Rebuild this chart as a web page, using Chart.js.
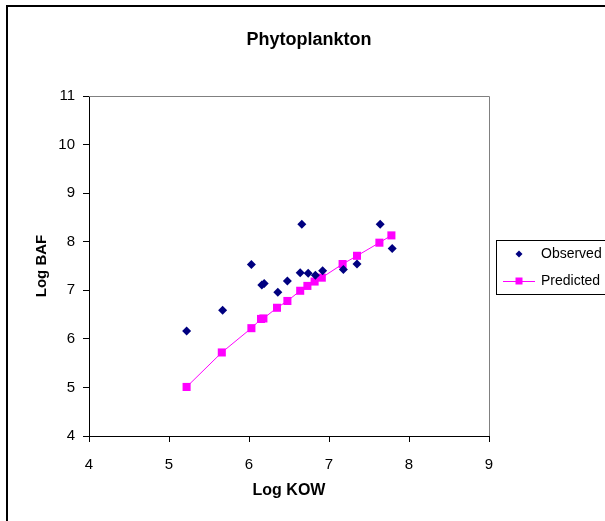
<!DOCTYPE html>
<html>
<head>
<meta charset="utf-8">
<title>Phytoplankton</title>
<script src="https://cdn.jsdelivr.net/npm/chart.js@4.4.1/dist/chart.umd.min.js"></script>
<style>
  html, body { margin: 0; padding: 0; background: #fff; overflow: hidden; }
  #frame { position: absolute; left: 6px; top: 5px; width: 700px; height: 700px; border: 2px solid #000; }
  #chart { position: absolute; left: 0; top: 0; }
</style>
</head>
<body>
<div id="frame"></div>
<canvas id="chart" width="618" height="521"></canvas>
<script>
  // Values (Log KOW vs Log BAF)
  const kowObserved = [5.22, 5.67, 6.03, 6.16, 6.19, 6.36, 6.48, 6.64, 6.66, 6.74, 6.83, 6.92, 7.18, 7.35, 7.64, 7.79];
  const bafObserved = [6.16, 6.59, 7.53, 7.11, 7.14, 6.96, 7.19, 7.36, 8.36, 7.35, 7.31, 7.40, 7.43, 7.54, 8.36, 7.86];
  const kowPredicted = [5.22, 5.66, 6.03, 6.15, 6.18, 6.35, 6.48, 6.64, 6.73, 6.82, 6.91, 7.17, 7.35, 7.63, 7.78];
  const bafPredicted = [5.01, 5.72, 6.22, 6.41, 6.42, 6.64, 6.78, 6.99, 7.09, 7.18, 7.26, 7.54, 7.71, 7.98, 8.13];
  const seriesNames = ["Observed", "Predicted"];
  const xTicks = [4, 5, 6, 7, 8, 9];
  const yTicks = [4, 5, 6, 7, 8, 9, 10, 11];

  const toPoints = (xs, ys) => xs.map((x, i) => ({ x: x, y: ys[i] }));

  Chart.defaults.font.family = "'Liberation Sans', Arial, sans-serif";
  Chart.defaults.color = "#000";

  // gray top/right edge of the plot area
  const plotFrame = {
    id: "plotFrame",
    beforeDatasetsDraw(chart) {
      const { ctx, chartArea: a } = chart;
      ctx.save();
      ctx.strokeStyle = "#808080";
      ctx.lineWidth = 1;
      ctx.beginPath();
      ctx.moveTo(a.left, a.top + 0.5);
      ctx.lineTo(a.right + 0.5, a.top + 0.5);
      ctx.lineTo(a.right + 0.5, a.bottom);
      ctx.stroke();
      ctx.restore();
    }
  };

  // boxed legend to the right of the plot
  const legendBox = {
    id: "legendBox",
    afterDraw(chart) {
      const ctx = chart.ctx;
      ctx.save();
      ctx.fillStyle = "#fff";
      ctx.strokeStyle = "#000";
      ctx.lineWidth = 1;
      ctx.fillRect(496.5, 240.5, 140, 54);
      ctx.strokeRect(496.5, 240.5, 140, 54);
      ctx.font = "14px 'Liberation Sans', Arial, sans-serif";
      ctx.textBaseline = "middle";
      chart.data.datasets.forEach((ds, i) => {
        const y = 254 + i * 27;
        const cx = 519;
        if (ds.showLine) {
          ctx.strokeStyle = ds.borderColor;
          ctx.lineWidth = 1;
          ctx.beginPath();
          ctx.moveTo(503, y + 0.5);
          ctx.lineTo(535, y + 0.5);
          ctx.stroke();
        }
        ctx.fillStyle = ds.pointBackgroundColor;
        ctx.beginPath();
        if (ds.pointStyle === "rectRot") {
          const r = 3.5;
          ctx.moveTo(cx - r, y);
          ctx.lineTo(cx, y - r);
          ctx.lineTo(cx + r, y);
          ctx.lineTo(cx, y + r);
          ctx.closePath();
        } else {
          ctx.rect(cx - 3.5, y - 3.5, 7, 7);
        }
        ctx.fill();
        ctx.fillStyle = "#000";
        ctx.fillText(ds.label, 541, y);
      });
      ctx.restore();
    }
  };

  new Chart(document.getElementById("chart"), {
    type: "scatter",
    data: {
      datasets: [
        {
          label: seriesNames[0],
          data: toPoints(kowObserved, bafObserved),
          showLine: false,
          pointStyle: "rectRot",
          pointRadius: 4.5,
          pointBackgroundColor: "#000080",
          pointBorderColor: "#000080",
          pointBorderWidth: 0
        },
        {
          label: seriesNames[1],
          data: toPoints(kowPredicted, bafPredicted),
          showLine: true,
          borderColor: "#FF00FF",
          borderWidth: 1,
          pointStyle: "rect",
          pointRadius: 5.7,
          pointBackgroundColor: "#FF00FF",
          pointBorderColor: "#FF00FF",
          pointBorderWidth: 0
        }
      ]
    },
    options: {
      responsive: false,
      animation: false,
      layout: { padding: 0 },
      plugins: {
        legend: { display: false },
        tooltip: { enabled: false },
        title: {
          display: true,
          text: "Phytoplankton",
          font: { size: 18, weight: "bold" },
          color: "#000",
          padding: { top: 29.2, bottom: 45.2 }
        }
      },
      scales: {
        x: {
          type: "linear",
          min: 4,
          max: 9,
          afterBuildTicks: (s) => { s.ticks = xTicks.map(v => ({ value: v })); },
          afterFit: (s) => { s.height = 85; },
          grid: { drawOnChartArea: false, drawTicks: true, tickLength: 6, color: "#000" },
          border: { display: true, color: "#000", width: 1 },
          ticks: { font: { size: 15 }, color: "#000", padding: 14 },
          title: {
            display: true,
            text: "Log KOW",
            font: { size: 16, weight: "bold" },
            color: "#000",
            padding: { top: 0, bottom: 21 }
          }
        },
        y: {
          type: "linear",
          min: 4,
          max: 11,
          afterBuildTicks: (s) => { s.ticks = yTicks.map(v => ({ value: v })); },
          afterFit: (s) => { s.width = 89; },
          grid: { drawOnChartArea: false, drawTicks: true, tickLength: 6, color: "#000" },
          border: { display: true, color: "#000", width: 1 },
          ticks: { font: { size: 15 }, color: "#000", padding: 8 },
          title: {
            display: true,
            text: "Log BAF",
            font: { size: 15, weight: "bold" },
            color: "#000",
            padding: { top: 33, bottom: 0 }
          }
        },
        // empty right-hand band that holds the legend
        side: {
          type: "linear",
          position: "right",
          display: true,
          afterFit: (s) => { s.width = 129; },
          grid: { display: false },
          border: { display: false },
          ticks: { display: false }
        }
      }
    },
    plugins: [plotFrame, legendBox]
  });
</script>
</body>
</html>
